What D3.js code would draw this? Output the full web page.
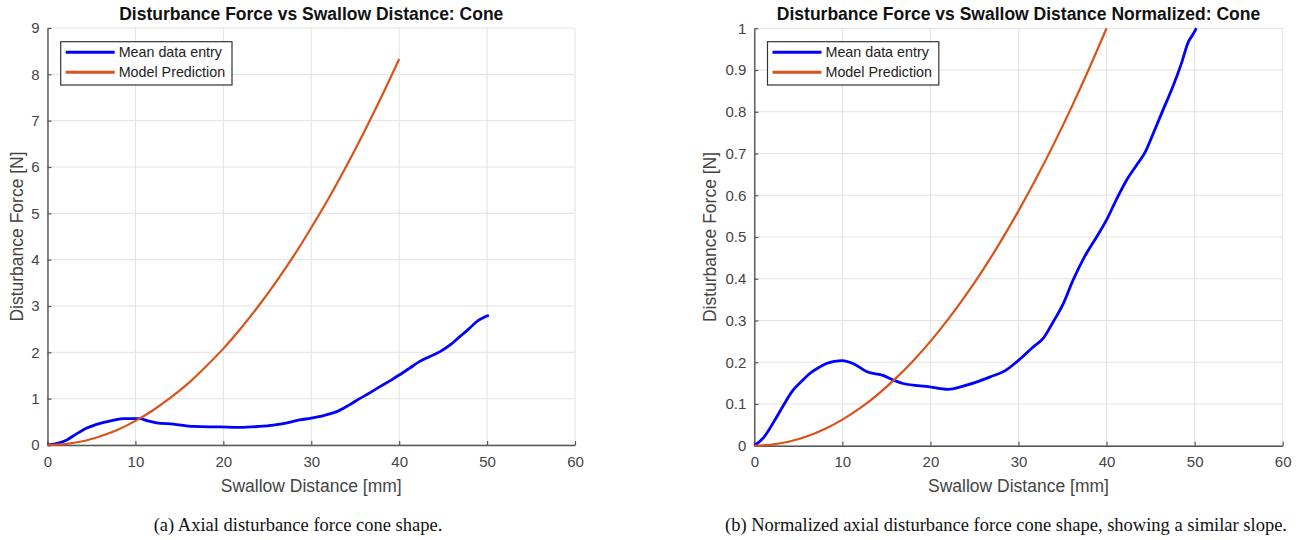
<!DOCTYPE html>
<html>
<head>
<meta charset="utf-8">
<script src="https://cdnjs.cloudflare.com/ajax/libs/d3/7.8.5/d3.min.js"></script>
<style>
  body { margin: 0; background: #fff; }
  svg { display: block; font-family: "Liberation Sans", Arial, sans-serif; }
</style>
</head>
<body>
<div id="chart"></div>
<script>
// values
const xTicks = [0, 10, 20, 30, 40, 50, 60];
const yTicksA = [0, 1, 2, 3, 4, 5, 6, 7, 8, 9];
const yTicksB = [0, 0.1, 0.2, 0.3, 0.4, 0.5, 0.6, 0.7, 0.8, 0.9, 1];

// (a) raw force
const meanDistA = [0, 1, 2.2, 3.3, 4.4, 5.5, 6.7, 7.7, 8.6, 9.6, 10.5, 11.4, 12.4, 14.3, 16.6, 19.6, 21.9, 24, 25.7, 27.5, 28.7, 30, 31.5, 32.9, 34.2, 35.5, 36.7, 37.8, 39, 40, 41.2, 42.3, 43.5, 44.6, 45.8, 46.9, 47.9, 48.8, 49.6, 50.2];
const meanForceA = [0, 0.03, 0.11, 0.24, 0.36, 0.44, 0.50, 0.54, 0.57, 0.57, 0.57, 0.52, 0.48, 0.45, 0.40, 0.39, 0.38, 0.40, 0.43, 0.49, 0.54, 0.58, 0.64, 0.72, 0.85, 1.0, 1.13, 1.26, 1.39, 1.51, 1.66, 1.80, 1.91, 2.01, 2.16, 2.34, 2.50, 2.66, 2.75, 2.80];
const modelDist = [0, 2, 4, 6, 8, 10, 12, 14, 16, 18, 20, 22, 24, 26, 28, 30, 32, 34, 36, 38, 40];
const modelForceA = [0, 0.02, 0.08, 0.19, 0.33, 0.52, 0.75, 1.02, 1.33, 1.69, 2.08, 2.52, 3.0, 3.52, 4.08, 4.69, 5.33, 6.02, 6.75, 7.52, 8.33];

// (b) normalized
const meanDistB = [0, 1.0, 2.35, 3.4, 4.4, 5.4, 6.3, 7.3, 8.2, 9.1, 10.0, 11.2, 12.8, 14.7, 15.8, 16.9, 19.95, 22.0, 24.1, 26.8, 28.5, 29.8, 31.7, 32.8, 33.95, 35.1, 36.2, 37.4, 38.9, 40.0, 41.1, 42.3, 43.4, 44.4, 45.3, 46.4, 47.6, 48.5, 49.3, 49.8, 50.2];
const meanNormB = [0, 0.018, 0.062, 0.10, 0.133, 0.155, 0.173, 0.187, 0.197, 0.202, 0.204, 0.197, 0.177, 0.168, 0.157, 0.149, 0.141, 0.135, 0.145, 0.165, 0.18, 0.201, 0.237, 0.257, 0.297, 0.341, 0.397, 0.449, 0.501, 0.541, 0.589, 0.637, 0.672, 0.704, 0.748, 0.804, 0.864, 0.916, 0.968, 0.985, 1.0];
const modelNormB = [0, 0.0025, 0.01, 0.0225, 0.04, 0.0625, 0.09, 0.1225, 0.16, 0.2025, 0.25, 0.3025, 0.36, 0.4225, 0.49, 0.5625, 0.64, 0.7225, 0.81, 0.9025, 1.0];

const legendNames = ['Mean data entry', 'Model Prediction'];
const blue = '#0000ff', orange = '#d95319';

let width = 1304, height = 540;

let svg = d3.select('#chart').append('svg')
    .attr('width', width)
    .attr('height', height);

let panels = [
  {
    x0: 47.5, x1: 575, y0: 28, y1: 445, ymax: 9, yTicks: yTicksA,
    title: 'Disturbance Force vs Swallow Distance: Cone',
    caption: '(a) Axial disturbance force cone shape.', captionX: 298,
    ylabelX: 17,
    series: [
      {x: meanDistA, y: meanForceA, color: blue, w: 2.8},
      {x: modelDist, y: modelForceA, color: orange, w: 2.2}
    ]
  },
  {
    x0: 754.3, x1: 1282.7, y0: 28.3, y1: 445.7, ymax: 1, yTicks: yTicksB,
    title: 'Disturbance Force vs Swallow Distance Normalized: Cone',
    caption: '(b) Normalized axial disturbance force cone shape, showing a similar slope.', captionX: 1006,
    ylabelX: 710,
    series: [
      {x: meanDistB, y: meanNormB, color: blue, w: 2.8},
      {x: modelDist, y: modelNormB, color: orange, w: 2.2}
    ]
  }
];

panels.forEach(p => {
  let x = d3.scaleLinear().domain([0, 60]).range([p.x0, p.x1]);
  let y = d3.scaleLinear().domain([0, p.ymax]).range([p.y1, p.y0]);
  let g = svg.append('g');

  // grid
  g.append('g').selectAll('line').data(xTicks).enter().append('line')
    .attr('x1', d => x(d)).attr('x2', d => x(d))
    .attr('y1', p.y0).attr('y2', p.y1)
    .attr('stroke', '#e2e2e2').attr('stroke-width', 1);
  g.append('g').selectAll('line').data(p.yTicks).enter().append('line')
    .attr('x1', p.x0).attr('x2', p.x1)
    .attr('y1', d => y(d)).attr('y2', d => y(d))
    .attr('stroke', '#e2e2e2').attr('stroke-width', 1);

  // axes (ticks point inward like matlab)
  let xAxis = g.append('g').attr('transform', `translate(0,${p.y1})`)
    .call(d3.axisBottom(x).tickValues(xTicks).tickSize(-4).tickPadding(11).tickSizeOuter(0));
  let yAxis = g.append('g').attr('transform', `translate(${p.x0},0)`)
    .call(d3.axisLeft(y).tickValues(p.yTicks).tickSize(-4).tickPadding(8).tickSizeOuter(0)
      .tickFormat(d => String(d)));
  [xAxis, yAxis].forEach(a => {
    a.select('.domain').attr('stroke', '#555').attr('stroke-width', 1.4);
    a.selectAll('.tick line').attr('stroke', '#555').attr('stroke-width', 1.2);
    a.selectAll('.tick text').attr('fill', '#444')
      .style('font-family', '"Liberation Sans", Arial, sans-serif').style('font-size', '15px');
  });

  // lines
  p.series.forEach(s => {
    let pts = s.x.map((v, i) => [v, s.y[i]]);
    g.append('path')
      .datum(pts)
      .attr('fill', 'none')
      .attr('stroke', s.color)
      .attr('stroke-width', s.w)
      .attr('stroke-linejoin', 'round')
      .attr('d', d3.line().x(d => x(d[0])).y(d => y(d[1])).curve(d3.curveMonotoneX));
  });

  // title + labels
  g.append('text')
    .attr('x', (p.x0 + p.x1) / 2).attr('y', 19.5)
    .attr('text-anchor', 'middle')
    .style('font-weight', 'bold').style('font-size', '17.5px').attr('fill', '#111')
    .text(p.title);
  g.append('text')
    .attr('x', (p.x0 + p.x1) / 2).attr('y', 492)
    .attr('text-anchor', 'middle')
    .style('font-size', '17.5px').attr('fill', '#444')
    .text('Swallow Distance [mm]');
  g.append('text')
    .attr('transform', `translate(${p.ylabelX + 6},${(p.y0 + p.y1) / 2}) rotate(-90)`)
    .attr('text-anchor', 'middle')
    .style('font-size', '17.5px').attr('fill', '#444')
    .text('Disturbance Force [N]');
  g.append('text')
    .attr('x', p.captionX).attr('y', 531)
    .attr('text-anchor', 'middle')
    .style('font-family', '"Liberation Serif", "Times New Roman", serif')
    .style('font-size', '18.5px').attr('fill', '#111')
    .text(p.caption);

  // legend
  let lx = p.x0 + 13.2, ly = 41.7;
  let leg = g.append('g');
  leg.append('rect')
    .attr('x', lx).attr('y', ly).attr('width', 171.3).attr('height', 43.3)
    .attr('fill', '#fff').attr('stroke', '#333').attr('stroke-width', 1.2);
  legendNames.forEach((name, i) => {
    let yy = ly + 10.6 + i * 20;
    leg.append('line')
      .attr('x1', lx + 5).attr('x2', lx + 54)
      .attr('y1', yy).attr('y2', yy)
      .attr('stroke', p.series[i].color).attr('stroke-width', 3);
    leg.append('text')
      .attr('x', lx + 58).attr('y', yy + 5)
      .style('font-size', '14.3px').attr('fill', '#222')
      .text(name);
  });
});
</script>
</body>
</html>
